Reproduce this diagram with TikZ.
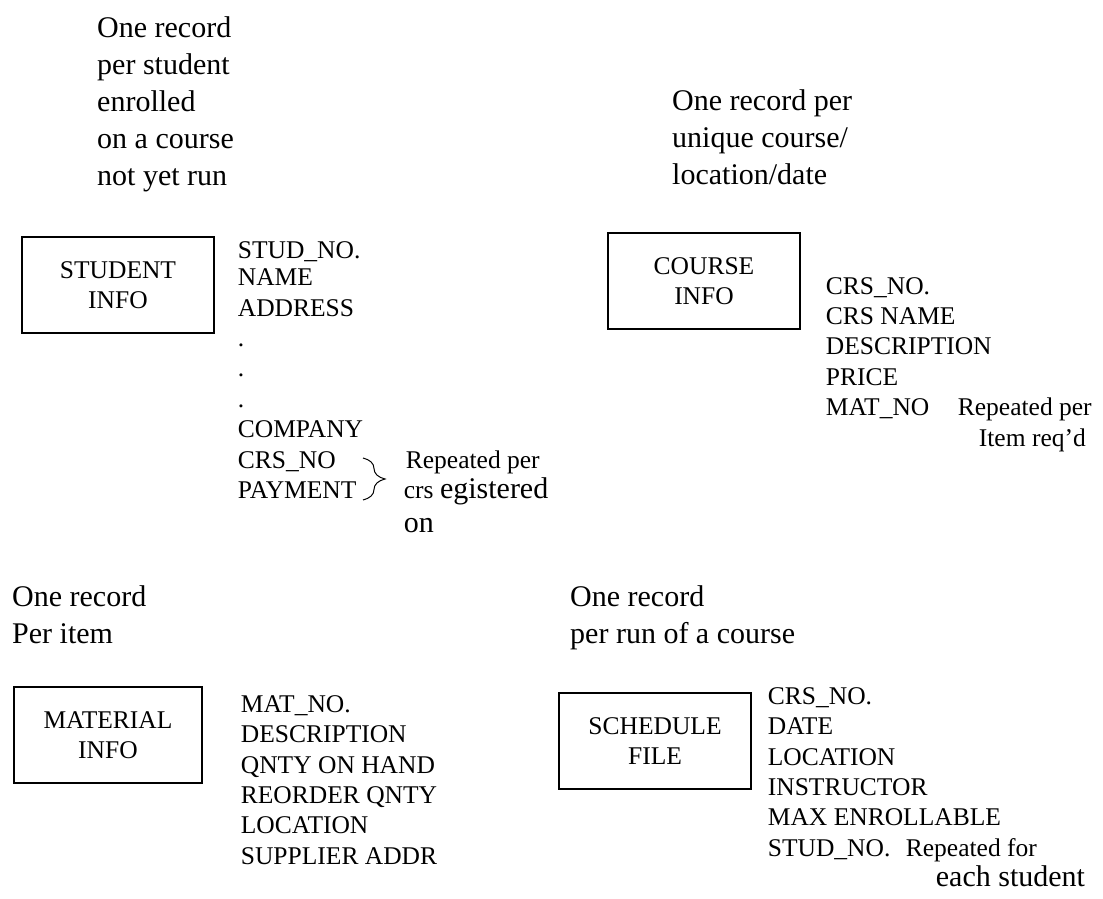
\documentclass[tikz,border=0pt]{standalone}
\usepackage{fontspec}
\setmainfont{Liberation Serif}
\usetikzlibrary{positioning, calc, decorations.pathreplacing}
\tikzset{
	recbox/.style={rectangle, draw=black, line width=1.4pt, minimum width=192pt,
		minimum height=96pt, align=center, inner sep=0pt, font=\fontsize{25.5}{30}\selectfont},
	fieldlist/.style={anchor=north west, align=left, inner sep=0pt,
		font=\fontsize{25.5}{30.4}\selectfont},
	notetext/.style={anchor=north west, align=left, inner sep=0pt,
		font=\fontsize{30}{37}\selectfont},
	bracemark/.style={decorate, decoration={brace, amplitude=22pt}, line width=1pt},
}
\newcommand{\bigword}[1]{{\fontsize{30}{30.4}\selectfont #1}}

\begin{document}
\begin{tikzpicture}[x=1pt, y=-1pt]
	\useasboundingbox (0,0) rectangle (1103,899);
	% Student file
	\node[notetext] (stunote) at (97,16) {One record\\per student\\enrolled\\on a course\\not yet run};
	\node[recbox] (stubox) at (118,285) {STUDENT\\INFO};
	\node[fieldlist, right=23pt of stubox.north east, anchor=north west, yshift=-5pt] (stufields)
		{STUD\_NO.\\[-3pt]NAME\\ADDRESS\\.\\.\\.\\COMPANY\\
		\makebox[168pt][l]{CRS\_NO}Repeated per\\
		\makebox[166pt][l]{PAYMENT}crs \bigword{egistered}\\[4pt]
		\hspace*{166pt}\bigword{on}};
	\coordinate (bracetop) at (363,458);
	\coordinate (bracebot) at (363,500);
	\draw[bracemark] (bracetop) -- (bracebot);
	% Course file
	\node[notetext] (crsnote) at (672,89) {One record per\\unique course/\\location/date};
	\node[recbox] (crsbox) at (704,281) {COURSE\\INFO};
	\node[fieldlist, right=25pt of crsbox.east, anchor=north west, yshift=4pt] (crsfields)
		{CRS\_NO.\\CRS NAME\\DESCRIPTION\\PRICE\\
		\makebox[132pt][l]{MAT\_NO}Repeated per\\
		\hspace*{153pt}Item req'd};
	% Material file
	\node[notetext] (matnote) at (12,585) {One record\\Per item};
	\node[recbox, minimum width=188pt] (matbox) at (108,735) {MATERIAL\\INFO};
	\node[fieldlist, right=38pt of matbox.north east, anchor=north west, yshift=-9pt] (matfields)
		{MAT\_NO.\\DESCRIPTION\\QNTY ON HAND\\REORDER QNTY\\LOCATION\\SUPPLIER ADDR};
	% Schedule file
	\node[notetext] (schnote) at (570,585) {One record\\per run of a course};
	\node[recbox] (schbox) at (655,741) {SCHEDULE\\FILE};
	\node[fieldlist, right=16pt of schbox.north east, anchor=north west, yshift=5pt] (schfields)
		{CRS\_NO.\\DATE\\LOCATION\\INSTRUCTOR\\MAX ENROLLABLE\\
		\makebox[138pt][l]{STUD\_NO.}Repeated for\\
		\hspace*{168pt}\bigword{each student}};
\end{tikzpicture}
\end{document}
